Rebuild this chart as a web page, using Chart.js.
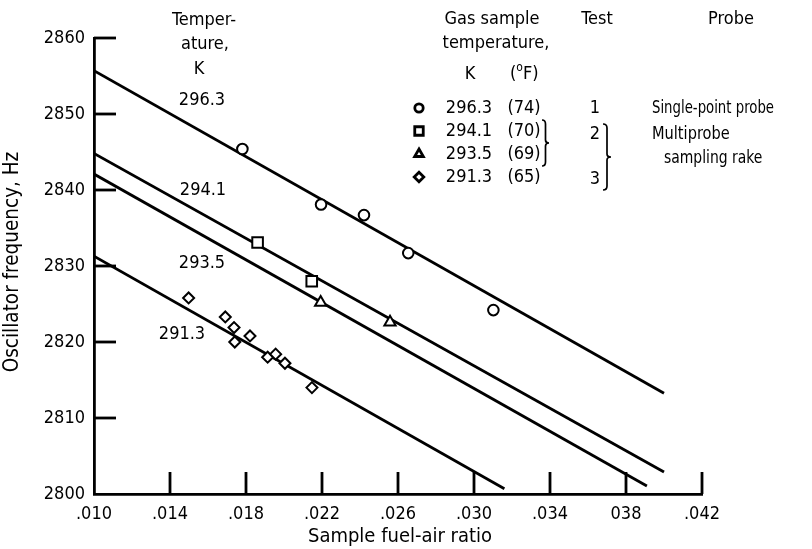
<!DOCTYPE html>
<html><head><meta charset="utf-8">
<script src="https://cdn.jsdelivr.net/npm/chart.js@4"></script>
<style>html,body{margin:0;padding:0;background:#fff}#wrap{width:812px;height:549px}</style>
</head><body><div id="wrap"><canvas id="c" width="812" height="549"></canvas></div>
<script>
// ---------- data ----------
const xTickValues = [0.010, 0.014, 0.018, 0.022, 0.026, 0.030, 0.034, 0.038, 0.042];
const xTickLabels = ['.010', '.014', '.018', '.022', '.026', '.030', '.034', '038', '.042'];
const yTickValues = [2800, 2810, 2820, 2830, 2840, 2850, 2860];
const yTickLabels = ['2800', '2810', '2820', '2830', '2840', '2850', '2860'];

// Test 1, 296.3 K (circles)
const circleX = [0.01781, 0.02195, 0.02421, 0.02654, 0.03102];
const circleY = [2845.4, 2838.1, 2836.7, 2831.7, 2824.2];
// Test 2, 294.1 K (squares)
const squareX = [0.01861, 0.02146];
const squareY = [2833.1, 2828.0];
// Test 2, 293.5 K (triangles)
const triangleX = [0.02193, 0.02558];
const triangleY = [2825.2, 2822.6];
// Test 3, 291.3 K (diamonds)
const diamondX = [0.01498, 0.01691, 0.01737, 0.01741, 0.01821, 0.01914, 0.01956, 0.02005, 0.02147];
const diamondY = [2825.8, 2823.3, 2821.9, 2820.0, 2820.8, 2818.0, 2818.4, 2817.2, 2814.0];

// faired lines (start / end points)
const fitNames = ['296.3', '294.1', '293.5', '291.3'];
const fitStartX = [0.010, 0.010, 0.010, 0.010];
const fitStartY = [2855.7, 2844.8, 2842.1, 2831.3];
const fitEndX = [0.0400, 0.0400, 0.0391, 0.0316];
const fitEndY = [2813.25, 2802.9, 2801.05, 2800.7];

// legend table
const legendK = ['296.3', '294.1', '293.5', '291.3'];
const legendF = ['(74)', '(70)', '(69)', '(65)'];
const legendStyles = ['circle', 'rect', 'triangle', 'rectRot'];
const legendTests = ['1', '2', '3'];
const legendProbes = ['Single-point probe', 'Multiprobe', 'sampling rake'];

// ---------- chart ----------
const FONT = '"DejaVu Sans Condensed", "Liberation Sans Narrow", sans-serif';
const pts = (xs, ys) => xs.map((x, i) => ({x, y: ys[i]}));

const markerBase = {type: 'scatter', showLine: false, borderColor: '#000', backgroundColor: '#fff',
  pointBorderWidth: 2, pointHoverRadius: 0};

const datasets = [
  Object.assign({}, markerBase, {label: 'c', data: pts(circleX, circleY), pointStyle: 'circle', pointRadius: 5.3}),
  Object.assign({}, markerBase, {label: 's', data: pts(squareX, squareY), pointStyle: 'rect', pointRadius: 7.5}),
  Object.assign({}, markerBase, {label: 't', data: pts(triangleX, triangleY), pointStyle: 'triangle', pointRadius: 6.5}),
  Object.assign({}, markerBase, {label: 'd', data: pts(diamondX, diamondY), pointStyle: 'rectRot', pointRadius: 5.5}),
];
fitNames.forEach((n, i) => {
  datasets.push({type: 'line', label: n, data: [{x: fitStartX[i], y: fitStartY[i]}, {x: fitEndX[i], y: fitEndY[i]}],
    borderColor: '#000', borderWidth: 2.8, pointRadius: 0, fill: false, tension: 0});
});

function txt(ctx, t, x, y, size, sx, align) {
  ctx.save();
  ctx.font = size + 'px ' + FONT;
  ctx.textAlign = align || 'center';
  ctx.textBaseline = 'middle';
  ctx.translate(x, y);
  ctx.scale(sx || 1, 1);
  ctx.fillText(t, 0, 0);
  ctx.restore();
}

const textPlugin = {
  id: 'texts',
  afterDraw(chart) {
    const {ctx, scales: {x, y}, chartArea: a} = chart;
    ctx.save();
    // inner tick marks
    ctx.strokeStyle = '#000'; ctx.lineWidth = 2.8; ctx.lineCap = 'butt';
    xTickValues.forEach((v, i) => {
      if (i === 0) return;
      const px = x.getPixelForValue(v);
      ctx.beginPath(); ctx.moveTo(px, a.bottom); ctx.lineTo(px, a.bottom - 22); ctx.stroke();
    });
    yTickValues.forEach((v, i) => {
      if (i === 0) return;
      const py = y.getPixelForValue(v);
      ctx.beginPath(); ctx.moveTo(a.left, py); ctx.lineTo(a.left + 22, py); ctx.stroke();
    });

    ctx.fillStyle = '#000';
    // left annotations
    txt(ctx, 'Temper-', 204, 20, 18);
    txt(ctx, 'ature,', 205, 44, 18);
    txt(ctx, 'K', 199, 69, 18);
    const labPos = [[202, 100], [203, 190], [202, 263], [182, 334]];
    fitNames.forEach((n, i) => txt(ctx, n, labPos[i][0], labPos[i][1], 18));

    // axis titles
    txt(ctx, 'Sample fuel-air ratio', 400, 537, 20);
    ctx.save();
    ctx.translate(13, 262); ctx.rotate(-Math.PI / 2);
    txt(ctx, 'Oscillator frequency, Hz', 0, 0, 20.5);
    ctx.restore();

    // legend header
    txt(ctx, 'Gas sample', 492, 19, 18);
    txt(ctx, 'temperature,', 496, 43, 18);
    txt(ctx, 'K', 470, 74, 18);
    ctx.font = '18px ' + FONT;
    const wP = ctx.measureText('(').width;
    ctx.font = '12px ' + FONT;
    const wO = ctx.measureText('o').width;
    let fx = 510;
    txt(ctx, '(', fx, 74, 18, 1, 'left'); fx += wP;
    txt(ctx, 'o', fx, 68, 12, 1, 'left'); fx += wO;
    txt(ctx, 'F)', fx, 74, 18, 1, 'left');
    txt(ctx, 'Test', 597, 19, 18);
    txt(ctx, 'Probe', 731, 19, 18);

    const rows = [108, 131, 154, 177];
    const radii = {circle: 4.2, rect: 6, triangle: 5, rectRot: 4.8};
    rows.forEach((ry, i) => {
      txt(ctx, legendK[i], 469, ry, 18);
      txt(ctx, legendF[i], 524, ry, 18);
      ctx.save();
      ctx.fillStyle = '#fff'; ctx.strokeStyle = '#000';
      Chart.helpers.drawPoint(ctx, {pointStyle: legendStyles[i], radius: radii[legendStyles[i]], borderWidth: 1.8, rotation: 0}, 419, ry);
      ctx.restore();
    });
    ctx.fillStyle = '#000';
    txt(ctx, legendTests[0], 595, 108, 18);
    txt(ctx, legendTests[1], 595, 134, 18);
    txt(ctx, legendTests[2], 595, 179, 18);
    txt(ctx, legendProbes[0], 652, 108, 18, 0.82, 'left');
    txt(ctx, legendProbes[1], 652, 134, 18, 0.9, 'left');
    txt(ctx, legendProbes[2], 664, 158, 18, 0.86, 'left');

    // braces
    ctx.strokeStyle = '#000';
    ctx.lineWidth = 1.7;
    const brace = (bx, y1, y2, w) => {
      const ym = (y1 + y2) / 2, m = bx + w / 2;
      ctx.beginPath();
      ctx.moveTo(bx, y1);
      ctx.quadraticCurveTo(m, y1, m, y1 + 4);
      ctx.lineTo(m, ym - 3);
      ctx.quadraticCurveTo(m, ym, bx + w, ym);
      ctx.quadraticCurveTo(m, ym, m, ym + 3);
      ctx.lineTo(m, y2 - 4);
      ctx.quadraticCurveTo(m, y2, bx, y2);
      ctx.stroke();
    };
    brace(542, 120, 166, 7);
    brace(603, 124, 190, 8);
    ctx.restore();
  }
};

new Chart(document.getElementById('c'), {
  data: {datasets},
  options: {
    responsive: false, animation: false, devicePixelRatio: 1,
    layout: {padding: {left: 0, right: 110, top: 38, bottom: 0}},
    plugins: {legend: {display: false}, tooltip: {enabled: false}, title: {display: false}},
    scales: {
      x: {
        type: 'linear', min: 0.010, max: 0.042,
        afterBuildTicks: s => { s.ticks = xTickValues.map(v => ({value: v})); },
        afterFit: s => { s.height = 55; },
        grid: {display: true, drawOnChartArea: false, drawTicks: false},
        border: {display: true, color: '#000', width: 2.8},
        ticks: {color: '#000', font: {family: FONT, size: 18}, padding: 10, maxRotation: 0, autoSkip: false,
          callback: (v, i) => xTickLabels[i]}
      },
      y: {
        type: 'linear', min: 2800, max: 2860,
        afterBuildTicks: s => { s.ticks = yTickValues.map(v => ({value: v})); },
        afterFit: s => { s.width = 94; },
        grid: {display: true, drawOnChartArea: false, drawTicks: false},
        border: {display: true, color: '#000', width: 2.8},
        ticks: {color: '#000', font: {family: FONT, size: 18}, padding: 9, autoSkip: false,
          callback: (v, i) => yTickLabels[i]}
      }
    }
  },
  plugins: [textPlugin]
});
</script>
</body></html>
